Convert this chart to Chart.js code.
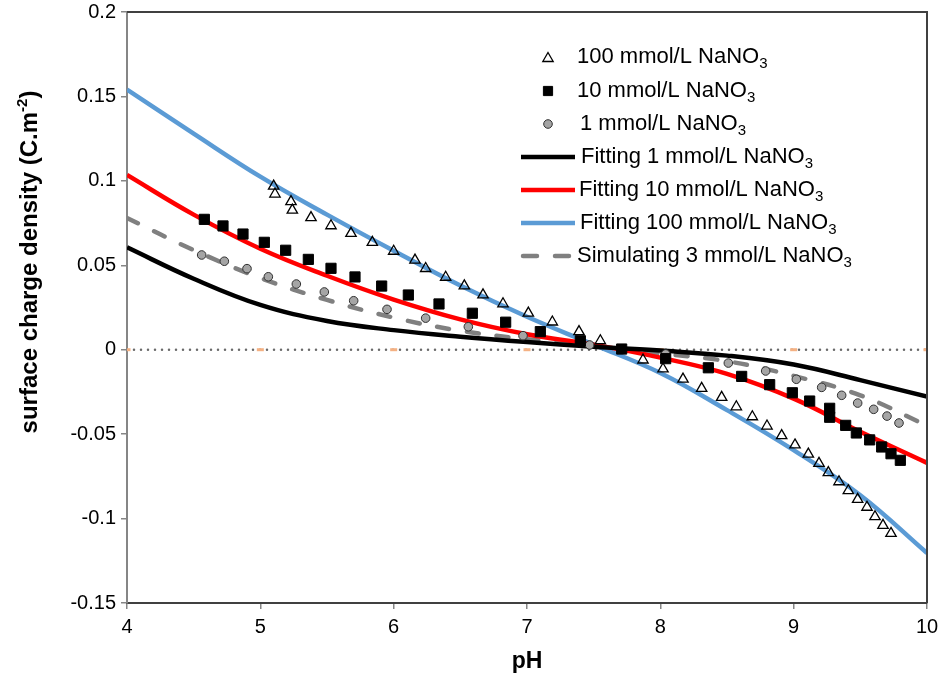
<!DOCTYPE html>
<html>
<head>
<meta charset="utf-8">
<script src="https://cdn.jsdelivr.net/npm/chart.js@4.4.1/dist/chart.umd.min.js"></script>
<style>
  html, body { margin: 0; padding: 0; background: #fff; }
</style>
</head>
<body>
<canvas id="chart" width="940" height="679"></canvas>
<script>
// axis ticks
const phTicks = [4, 5, 6, 7, 8, 9, 10];
const sigmaTicks = [-0.15, -0.1, -0.05, 0, 0.05, 0.1, 0.15, 0.2];
const sigmaTickLabels = ["-0.15", "-0.1", "-0.05", "0", "0.05", "0.1", "0.15", "0.2"];
const zeroLine = [0, 0, 0, 0, 0, 0, 0];

const xTitle = "pH";
const yTitle = ["surface charge density (C.m", "-2", ")"];

const seriesNames = [
    "100 mmol/L NaNO3",
    "10 mmol/L NaNO3",
    "1 mmol/L NaNO3",
    "Fitting 1 mmol/L NaNO3",
    "Fitting 10 mmol/L NaNO3",
    "Fitting 100 mmol/L NaNO3",
    "Simulating 3 mmol/L NaNO3"
];

// measured points
const ph100 = [5.10, 5.11, 5.23, 5.24, 5.38, 5.53, 5.68, 5.84, 6.00, 6.16, 6.24, 6.39, 6.53, 6.67, 6.82, 7.01, 7.19, 7.39, 7.55,
    7.87, 8.02, 8.17, 8.31, 8.46, 8.57, 8.69, 8.80, 8.91, 9.01, 9.11, 9.19, 9.26, 9.34, 9.41, 9.48, 9.55, 9.61, 9.67, 9.73];
const sigma100 = [0.0969, 0.0922, 0.0877, 0.0827, 0.0782, 0.0734, 0.0689, 0.0636, 0.0583, 0.0531, 0.0481, 0.0429, 0.0378, 0.0325,
    0.0272, 0.0217, 0.0164, 0.0107, 0.0053, -0.0061, -0.0114, -0.0174, -0.0229, -0.0282, -0.0338, -0.0397, -0.0452, -0.0509,
    -0.0564, -0.0618, -0.0673, -0.0728, -0.0782, -0.0835, -0.0886, -0.0933, -0.0989, -0.1040, -0.1088];

const ph10 = [4.58, 4.72, 4.87, 5.03, 5.19, 5.36, 5.53, 5.71, 5.91, 6.11, 6.34, 6.59, 6.84, 7.10, 7.40, 7.71, 8.04, 8.36, 8.61,
    8.82, 8.99, 9.12, 9.27, 9.27, 9.39, 9.47, 9.57, 9.66, 9.73, 9.80];
const sigma10 = [0.0772, 0.0733, 0.0685, 0.0636, 0.0589, 0.0535, 0.0482, 0.0431, 0.0377, 0.0324, 0.0271, 0.0216, 0.0163, 0.0107,
    0.0053, 0.0004, -0.0053, -0.0107, -0.0158, -0.0207, -0.0255, -0.0304, -0.0347, -0.0400, -0.0448, -0.0493, -0.0534, -0.0576,
    -0.0616, -0.0655];

const ph1 = [4.56, 4.73, 4.90, 5.06, 5.27, 5.48, 5.70, 5.95, 6.24, 6.56, 6.97, 7.47, 8.04, 8.51, 8.79, 9.02, 9.21, 9.36, 9.48,
    9.60, 9.70, 9.79];
const sigma1 = [0.0561, 0.0524, 0.0480, 0.0432, 0.0389, 0.0342, 0.0290, 0.0239, 0.0187, 0.0136, 0.0083, 0.0028, -0.0025, -0.0079,
    -0.0126, -0.0175, -0.0223, -0.0270, -0.0316, -0.0353, -0.0393, -0.0434];

// model curves
const phGrid = [4, 4.5, 5, 5.5, 6, 6.5, 7, 7.5, 8, 8.5, 9, 9.5, 10];
const fit1 = [0.0606, 0.042, 0.0265, 0.0170, 0.0116, 0.0077, 0.0045, 0.0018, -0.0005, -0.0035, -0.0088, -0.018, -0.0278];
const fit10 = [0.1035, 0.080, 0.0598, 0.0438, 0.0297, 0.018, 0.0092, 0.003, -0.0047, -0.0143, -0.029, -0.0486, -0.067];
const fit100 = [0.154, 0.128, 0.1025, 0.080, 0.0586, 0.038, 0.0195, 0.003, -0.0138, -0.0358, -0.0595, -0.0862, -0.1204];
const sim3 = [0.078, 0.059, 0.0425, 0.0295, 0.019, 0.0112, 0.0062, 0.002, -0.0022, -0.0068, -0.0155, -0.027, -0.045];

const FONT = "'Liberation Sans', Arial, sans-serif";

function pairs(xs, ys) {
    return xs.map((x, i) => ({x: x, y: ys[i]}));
}

function curve(label, ys, color, dash) {
    return {
        label: label,
        data: pairs(phGrid, ys),
        showLine: true,
        borderColor: color,
        borderWidth: 4.5,
        borderDash: dash || [],
        borderCapStyle: dash ? "round" : "butt",
        tension: 0.4,
        pointRadius: 0
    };
}

const datasets = [
    {label: seriesNames[0], data: pairs(ph100, sigma100), pointStyle: "triangle", pointRadius: 6,
        pointBackgroundColor: "rgba(255,255,255,0)", pointBorderColor: "#000", pointBorderWidth: 1.3},
    {label: seriesNames[1], data: pairs(ph10, sigma10), pointStyle: "rect", pointRadius: 7.2,
        pointBackgroundColor: "#000", pointBorderColor: "#000", pointBorderWidth: 1},
    {label: seriesNames[2], data: pairs(ph1, sigma1), pointStyle: "circle", pointRadius: 4.3,
        pointBackgroundColor: "#a5a5a5", pointBorderColor: "#303030", pointBorderWidth: 1},
    curve(seriesNames[3], fit1, "#000000"),
    curve(seriesNames[4], fit10, "#ff0000"),
    curve(seriesNames[5], fit100, "#5b9bd5"),
    curve(seriesNames[6], sim3, "#808080", [12, 18]),
    {label: "zero", data: pairs(phTicks, zeroLine), showLine: true, borderColor: "#6a6a6a", borderWidth: 2.5,
        borderDash: [0, 7], borderCapStyle: "round", pointStyle: "line", pointRadius: 3.5,
        pointBorderColor: "#f4b183", pointBorderWidth: 3}
];

// top and right edges of the plot frame, rotated y title with superscript
const frame = {
    id: "frame",
    afterDraw(chart) {
        const a = chart.chartArea;
        const ctx = chart.ctx;
        ctx.save();
        ctx.strokeStyle = "#404040";
        ctx.lineWidth = 2;
        ctx.beginPath();
        ctx.moveTo(a.left, a.top);
        ctx.lineTo(a.right, a.top);
        ctx.lineTo(a.right, a.bottom);
        ctx.stroke();

        ctx.translate(30, 262);
        ctx.rotate(-Math.PI / 2);
        ctx.fillStyle = "#000";
        ctx.textBaseline = "middle";
        ctx.textAlign = "left";
        const big = "bold 24px " + FONT;
        const small = "bold 15px " + FONT;
        ctx.font = big;
        const w0 = ctx.measureText(yTitle[0]).width;
        const w2 = ctx.measureText(yTitle[2]).width;
        ctx.font = small;
        const w1 = ctx.measureText(yTitle[1]).width;
        let x = -(w0 + w1 + w2) / 2;
        ctx.font = big;
        ctx.fillText(yTitle[0], x, 0);
        x += w0;
        ctx.font = small;
        ctx.fillText(yTitle[1], x, -7);
        x += w1;
        ctx.font = big;
        ctx.fillText(yTitle[2], x, 0);
        ctx.restore();
    }
};

// legend inside the plot, with subscript 3
const legendBox = {
    id: "legendBox",
    afterDraw(chart) {
        const ctx = chart.ctx;
        const rows = [
            {mark: "triangle", y: 57, tx: 577},
            {mark: "rect", y: 91, tx: 577},
            {mark: "circle", y: 124, tx: 580},
            {mark: "line", color: "#000000", y: 157, tx: 581},
            {mark: "line", color: "#ff0000", y: 190, tx: 579},
            {mark: "line", color: "#5b9bd5", y: 223, tx: 580},
            {mark: "dash", color: "#808080", y: 256, tx: 577}
        ];
        ctx.save();
        rows.forEach((row, i) => {
            const ds = datasets[i];
            if (row.mark === "line" || row.mark === "dash") {
                ctx.strokeStyle = row.color;
                ctx.lineWidth = 4.5;
                ctx.lineCap = row.mark === "dash" ? "round" : "butt";
                ctx.setLineDash(row.mark === "dash" ? [14, 18] : []);
                ctx.beginPath();
                ctx.moveTo(row.mark === "dash" ? 523 : 521, row.y);
                ctx.lineTo(575, row.y);
                ctx.stroke();
                ctx.setLineDash([]);
            } else {
                ctx.fillStyle = ds.pointBackgroundColor;
                ctx.strokeStyle = ds.pointBorderColor;
                ctx.lineWidth = ds.pointBorderWidth;
                Chart.helpers.drawPoint(ctx, {pointStyle: row.mark, radius: row.mark === "rect" ? 6.5 : ds.pointRadius,
                    borderWidth: ds.pointBorderWidth, rotation: 0}, 548, row.y + (row.mark === "triangle" ? 1.5 : 0));
            }
            const label = seriesNames[i];
            const main = label.slice(0, -1);
            ctx.fillStyle = "#000";
            ctx.textBaseline = "middle";
            ctx.textAlign = "left";
            ctx.font = "22px " + FONT;
            ctx.fillText(main, row.tx, row.y);
            const w = ctx.measureText(main).width;
            ctx.font = "15px " + FONT;
            ctx.fillText(label.slice(-1), row.tx + w, row.y + 7);
        });
        ctx.restore();
    }
};

new Chart(document.getElementById("chart"), {
    type: "scatter",
    data: {datasets: datasets},
    options: {
        responsive: false,
        animation: false,
        events: [],
        layout: {padding: {top: 12, right: 13, left: 0, bottom: 0}},
        plugins: {legend: {display: false}, tooltip: {enabled: false}},
        scales: {
            x: {
                type: "linear",
                min: 4,
                max: 10,
                afterBuildTicks: s => { s.ticks = phTicks.map(v => ({value: v})); },
                afterFit: s => { s.height = 76; s.paddingLeft = 0; s.paddingRight = 0; },
                ticks: {color: "#000", font: {family: FONT, size: 20}, padding: 6, maxRotation: 0,
                    callback: v => String(v)},
                grid: {drawOnChartArea: false, tickLength: 6, color: "#868686", lineWidth: 1.5},
                border: {color: "#404040", width: 2},
                title: {display: true, text: xTitle, color: "#000",
                    font: {family: FONT, size: 23, weight: "bold", lineHeight: 1}, padding: {top: 0, bottom: 6}}
            },
            y: {
                type: "linear",
                min: -0.15,
                max: 0.2,
                afterBuildTicks: s => { s.ticks = sigmaTicks.map(v => ({value: v})); },
                afterFit: s => { s.width = 127; s.paddingTop = 0; s.paddingBottom = 0; },
                ticks: {color: "#000", font: {family: FONT, size: 20}, padding: 5,
                    callback: v => sigmaTickLabels[sigmaTicks.indexOf(v)]},
                grid: {drawOnChartArea: false, tickLength: 6, color: "#868686", lineWidth: 1.5},
                border: {color: "#868686", width: 2},
                title: {display: false}
            }
        }
    },
    plugins: [frame, legendBox]
});
</script>
</body>
</html>
